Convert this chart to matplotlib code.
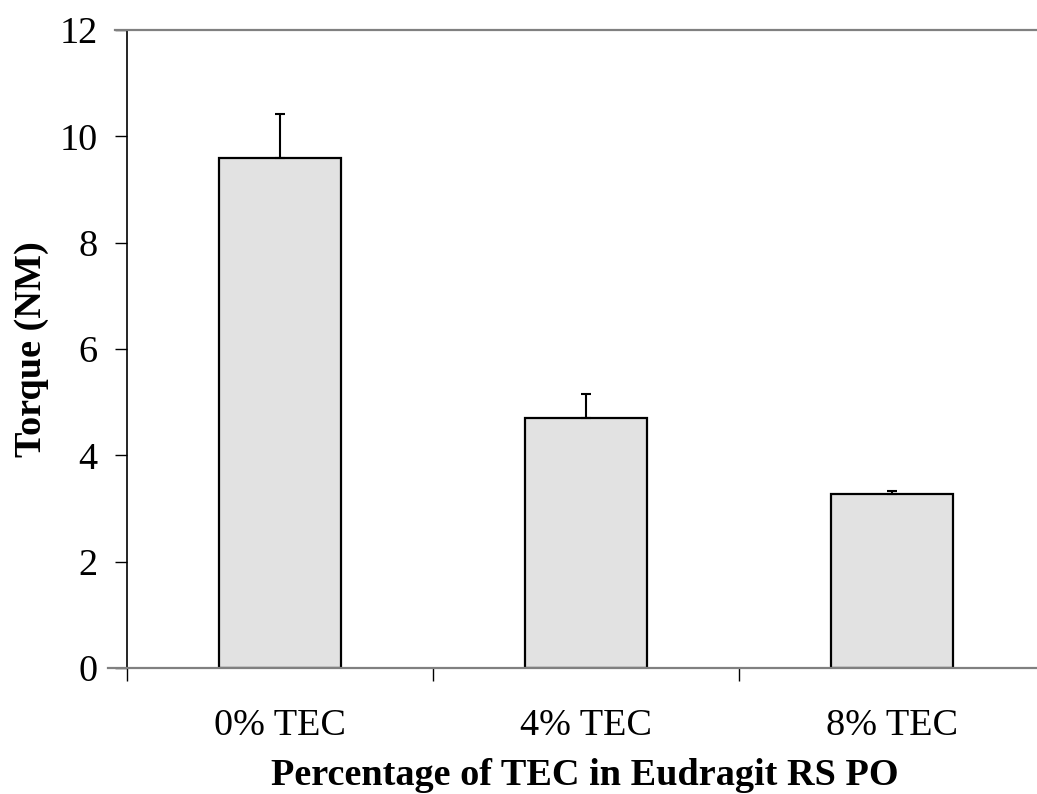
import matplotlib
matplotlib.use("Agg")
import matplotlib.pyplot as plt
import numpy as np

categories = ["0% TEC", "4% TEC", "8% TEC"]
torque = [9.59, 4.70, 3.27]
errors = [0.83, 0.45, 0.06]
yticks = [0, 2, 4, 6, 8, 10, 12]

plt.rcParams['font.family'] = ['Liberation Serif', 'DejaVu Serif']

fig = plt.figure(figsize=(10.37, 7.94), dpi=100)
W, H = 1037, 794
left, right, top, bottom = 127, 1037, 30, 668
ax = fig.add_axes([left / W, 1 - bottom / H, (right - left) / W, (bottom - top) / H])

x = np.arange(len(categories)) + 0.5
ax.bar(x, torque, width=0.40, color='#e2e2e2', edgecolor='black', linewidth=1.6, zorder=2)
ax.errorbar(x, torque, yerr=[np.zeros(len(errors)), errors], fmt='none', ecolor='black',
            elinewidth=1.5, capsize=3.3, capthick=1.5, zorder=3)

xmax = (right - left) / 306.0
ax.set_xlim(0, xmax)
ax.set_ylim(0, 12)
ax.set_yticks(yticks)
ax.set_yticklabels([str(v) for v in yticks], fontsize=27.5)
ax.set_xticks([0, 1, 2])
ax.set_xticklabels([])
ax.set_xticks(x, minor=True)
ax.set_xticklabels(categories, minor=True, fontsize=27.5)
ax.tick_params(axis='x', which='minor', length=0, pad=29.5)
ax.tick_params(axis='x', which='major', length=9, width=1, direction='out')
ax.tick_params(axis='y', length=9, width=1, direction='out', pad=12)

for s in ['top', 'bottom']:
    ax.spines[s].set_color('#808080')
    ax.spines[s].set_linewidth(1.6)
ax.spines['bottom'].set_bounds(-19 / 306.0, xmax)
ax.spines['top'].set_bounds(-12 / 306.0, xmax)
ax.spines['right'].set_visible(False)
ax.spines['left'].set_color('black')
ax.spines['left'].set_linewidth(1.2)

fig.text(585 / W, 1 - 785 / H, "Percentage of TEC in Eudragit RS PO", fontsize=27.5,
         fontweight='bold', ha='center', va='baseline')
fig.text(32 / W, 1 - 349 / H, "Torque (NM)", fontsize=27.5, fontweight='bold',
         rotation=90, ha='center', va='center')

fig.savefig("out.png", dpi=100)
